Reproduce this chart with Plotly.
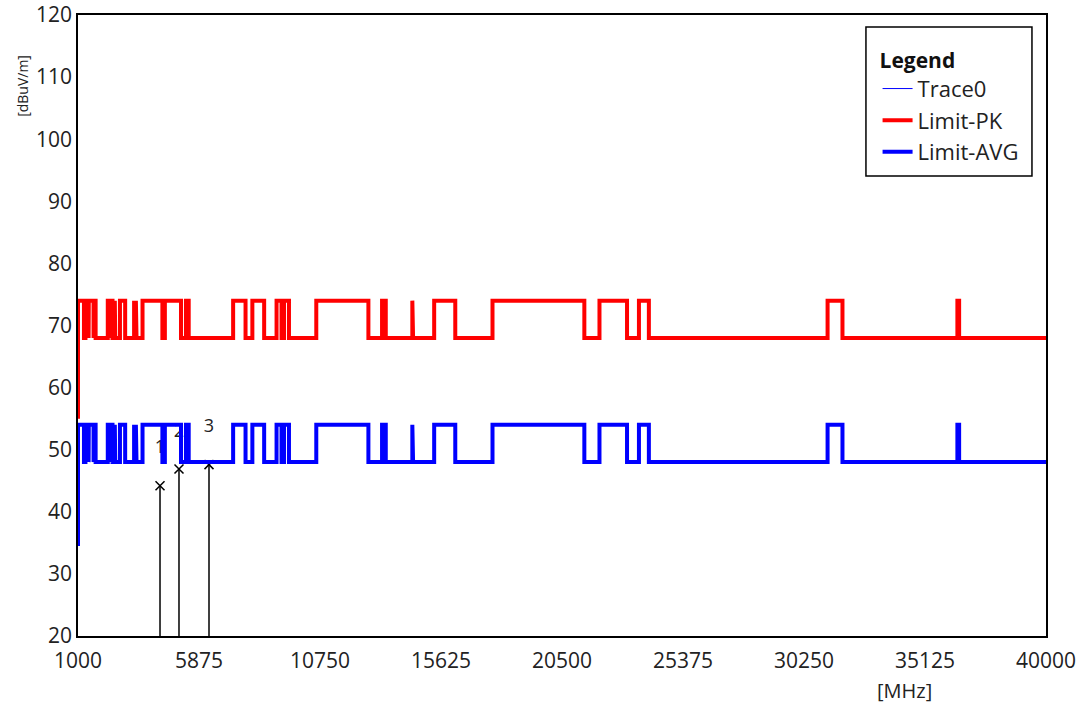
import plotly.graph_objects as go

# Restricted bands (MHz) where the higher limit applies
band_start = [960, 1300, 1435, 1645.5, 1660, 1718.8, 2200, 2310, 2483.5, 2690,
              3260, 3332, 3345.8, 3600, 4500, 5350, 7250, 8025, 9000, 9300,
              10600, 13250, 14470, 15350, 17700, 22010, 23600, 31200, 36430]
band_end = [1240, 1427, 1626.5, 1646.5, 1710, 1722.2, 2300, 2390, 2500, 2900,
            3267, 3339, 3358, 4400, 5150, 5460, 7750, 8500, 9200, 9500,
            12700, 13400, 14500, 16200, 21400, 23120, 24000, 31800, 36500]

f_min, f_max = 1000, 40000
pk_start, pk_high, pk_low = 55, 74, 68
avg_start, avg_high, avg_low = 34.5, 54, 48

mk_freq = [4304, 5069, 6278]
mk_level = [44.2, 46.9, 47.6]
mk_label = ["1", "2", "3"]

x_ticks = [1000, 5875, 10750, 15625, 20500, 25375, 30250, 35125, 40000]
y_ticks = [20, 30, 40, 50, 60, 70, 80, 90, 100, 110, 120]


def step_line(start, hi, lo):
    xs, ys = [f_min], [start]
    for s, e in zip(band_start, band_end):
        s = max(s, f_min)
        xs += [s, s, e, e]
        ys += [lo, hi, hi, lo]
    xs.append(f_max)
    ys.append(lo)
    return xs, ys


fig = go.Figure()

# marker stems
vx, vy = [], []
for f, v in zip(mk_freq, mk_level):
    vx += [f, f, None]
    vy += [20, v, None]
fig.add_trace(go.Scatter(x=vx, y=vy, mode="lines", line=dict(color="black", width=1.5),
                         showlegend=False, hoverinfo="skip"))
fig.add_trace(go.Scatter(x=mk_freq, y=mk_level, mode="markers",
                         marker=dict(symbol="x-thin", size=9, line=dict(color="black", width=1.5)),
                         showlegend=False))
fig.add_trace(go.Scatter(x=mk_freq, y=[v + 4.5 for v in mk_level], mode="text", text=mk_label,
                         textposition="top center",
                         textfont=dict(family="Open Sans", size=18, color="#222"),
                         showlegend=False))

fig.add_trace(go.Scatter(x=[None], y=[None], mode="lines", name="Trace0",
                         line=dict(color="#0000ff", width=1)))
px, py = step_line(pk_start, pk_high, pk_low)
fig.add_trace(go.Scatter(x=px, y=py, mode="lines", name="Limit-PK",
                         line=dict(color="#ff0000", width=4)))
ax_, ay_ = step_line(avg_start, avg_high, avg_low)
fig.add_trace(go.Scatter(x=ax_, y=ay_, mode="lines", name="Limit-AVG",
                         line=dict(color="#0000ff", width=4)))

fig.update_layout(
    width=1082, height=706,
    margin=dict(l=78, r=36, t=15, b=70),
    paper_bgcolor="white", plot_bgcolor="white",
    font=dict(family="Open Sans", size=21, color="#222"),
    showlegend=True,
    legend=dict(
        x=0.826, y=0.959, xanchor="left", yanchor="top",
        bgcolor="rgba(0,0,0,0)", borderwidth=0,
        title=dict(text="<b>Legend</b>", font=dict(size=21, color="#111")),
        font=dict(size=22, color="#222"),
        itemwidth=30,
    ),
    shapes=[dict(type="rect", xref="paper", yref="paper",
                 x0=0.814, x1=0.9855, y0=0.7407, y1=0.9807,
                 line=dict(color="black", width=1.5), fillcolor="white", layer="below")],
    xaxis=dict(range=[f_min, f_max], tickvals=x_ticks, ticktext=[str(t) for t in x_ticks],
               showgrid=False, zeroline=False, showline=True, mirror=True, automargin=False,
               linecolor="black", linewidth=1.5, ticks="", ticklabelstandoff=5,
               ticklabeloverflow="allow", tickfont=dict(size=21)),
    yaxis=dict(range=[20, 120], tickvals=y_ticks, showgrid=False, zeroline=False,
               showline=True, mirror=True, automargin=False, linecolor="black", linewidth=1.5,
               ticks="", ticklabeloverflow="allow", tickfont=dict(size=21)),
    annotations=[
        dict(text="[dBuV/m]", xref="paper", yref="paper", x=-0.058, y=(636 - 53) / 621,
             xanchor="center", yanchor="top", textangle=-90, showarrow=False,
             font=dict(size=14, color="#222")),
        dict(text="[MHz]", xref="paper", yref="paper", x=0.854, y=-0.087,
             xanchor="center", yanchor="middle", showarrow=False,
             font=dict(size=20, color="#222")),
    ],
)

fig.write_html("out.html", config={"displayModeBar": False},
               post_script="document.body.style.margin='0';")
